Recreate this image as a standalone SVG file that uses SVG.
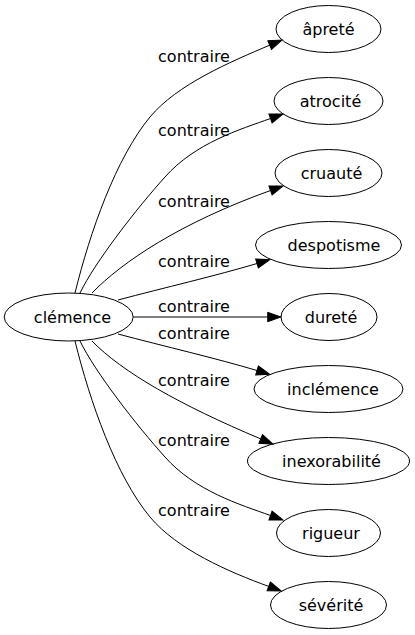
<svg xmlns="http://www.w3.org/2000/svg" width="415" height="635" viewBox="0 0 415 635">
<style>
.n ellipse{fill:none;stroke:#000;stroke-width:1}
text{font-family:"DejaVu Sans","Liberation Sans",sans-serif;font-size:16px;fill:#000;text-anchor:middle}
.e path{fill:none;stroke:#000;stroke-width:1;marker-end:url(#ah)}
</style>
<defs>
<marker id="ah" markerUnits="userSpaceOnUse" orient="auto" refX="0" refY="0" markerWidth="14" markerHeight="10" viewBox="0 -5 14 10" overflow="visible">
<path d="M0,-4.7L13.3,0L0,4.7z" fill="#000" stroke="#000" stroke-width="1"/>
</marker>
</defs>
<rect width="415" height="635" fill="#fff"/>
<g class="e" id="edges">
<path d="M75,293C90,232 116,158 150,117C177,84.5 230,62 269.7,45.2"/>
<path d="M80,293C95,262 137,208 165,177C195,143 240.4,129.3 270.5,118.5"/>
<path d="M92,293C122,262 180,223 270.5,190.5"/>
<path d="M118,300C165,287.5 215,276 257,263.5"/>
<path d="M133.3,317L267.7,317"/>
<path d="M118,334C165,346.5 215,358 257,370.5"/>
<path d="M92,341C122,372 180,405 260.7,438.9"/>
<path d="M80,341C95,372 137,426 165,457C195,491 240.4,504.7 270.5,515.5"/>
<path d="M75,341C90,402 116,476 150,517C177,549.5 229,572 268.7,586.4"/>
</g>
<g id="edge-labels">
<text x="194" y="62">contraire</text>
<text x="194" y="136">contraire</text>
<text x="194" y="207">contraire</text>
<text x="194" y="266.5">contraire</text>
<text x="194" y="311.5">contraire</text>
<text x="194" y="339">contraire</text>
<text x="194" y="386">contraire</text>
<text x="194" y="446">contraire</text>
<text x="194" y="516">contraire</text>
</g>
<g class="n" id="clemence"><ellipse cx="68.7" cy="317" rx="64.5" ry="24"/><text x="72.5" y="322.5">clémence</text></g>
<g class="n" id="aprete"><ellipse cx="328.5" cy="29" rx="52.5" ry="23.5"/><text x="328.5" y="34.5">âpreté</text></g>
<g class="n" id="atrocite"><ellipse cx="328.5" cy="101" rx="54.5" ry="23.5"/><text x="330.5" y="106.5">atrocité</text></g>
<g class="n" id="cruaute"><ellipse cx="328.5" cy="173" rx="53.5" ry="23.5"/><text x="331.5" y="178.5">cruauté</text></g>
<g class="n" id="despotisme"><ellipse cx="328.5" cy="245" rx="73" ry="23.5"/><text x="334" y="250.5">despotisme</text></g>
<g class="n" id="durete"><ellipse cx="329" cy="317" rx="48" ry="23.5"/><text x="331" y="322.5">dureté</text></g>
<g class="n" id="inclemence"><ellipse cx="328.5" cy="389" rx="74.5" ry="23.5"/><text x="333" y="394.5">inclémence</text></g>
<g class="n" id="inexorabilite"><ellipse cx="328.5" cy="461" rx="81" ry="23.5"/><text x="331.5" y="466.5">inexorabilité</text></g>
<g class="n" id="rigueur"><ellipse cx="328.5" cy="533" rx="52" ry="23.5"/><text x="331" y="538.5">rigueur</text></g>
<g class="n" id="severite"><ellipse cx="328.5" cy="605" rx="58" ry="23.5"/><text x="331" y="610.5">sévérité</text></g>
</svg>
